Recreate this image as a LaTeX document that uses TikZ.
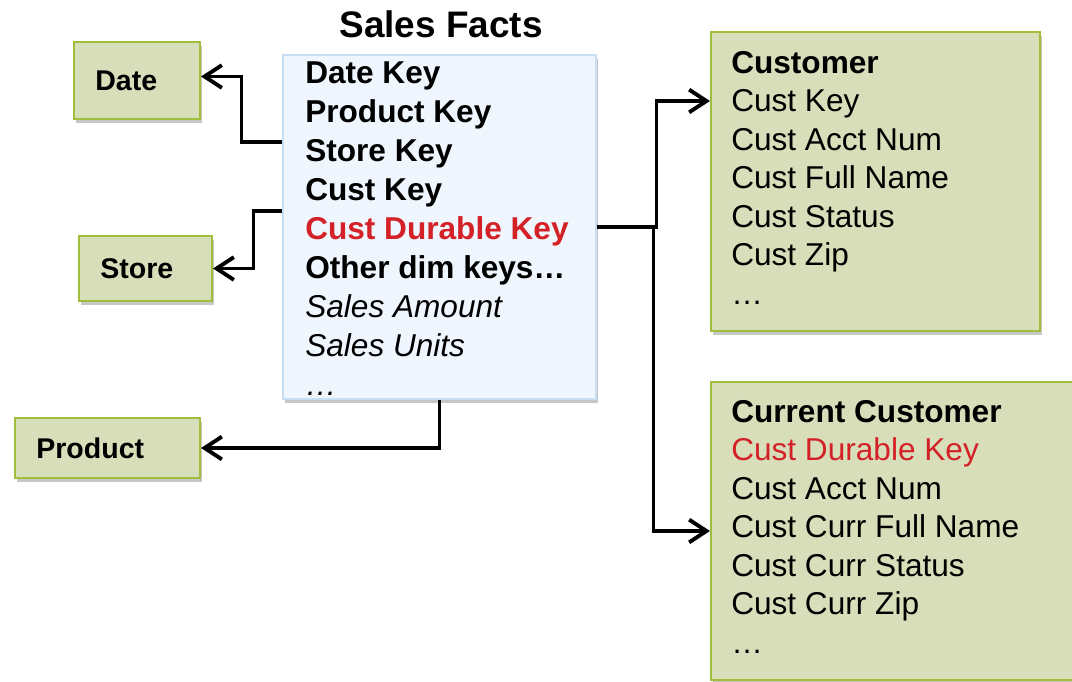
\documentclass[tikz,border=0pt]{standalone}
\usepackage{fontspec}
\setmainfont{Liberation Sans}
\usetikzlibrary{arrows.meta,shadows}

\definecolor{dimfill}{RGB}{215,222,185}
\definecolor{dimline}{RGB}{160,190,60}
\definecolor{factfill}{RGB}{239,246,253}
\definecolor{factline}{RGB}{200,222,242}
\definecolor{keyred}{RGB}{212,33,40}

\begin{document}
\begin{tikzpicture}[x=0.75pt,y=-0.75pt,>={Straight Barb[length=13pt,width=17pt]},
                    boxshadow/.style={drop shadow={shadow xshift=1.2pt,shadow yshift=-3pt,opacity=0.4,fill=black!55}},
                    dim/.style={draw=dimline,fill=dimfill,line width=1.5pt,inner xsep=16pt,inner ysep=0pt,
                                align=left,font=\fontsize{21.4}{26}\selectfont\bfseries,boxshadow},
                    table/.style={draw=dimline,fill=dimfill,line width=1.5pt,inner sep=0pt,boxshadow},
                    list/.style={anchor=north west,align=left,inner sep=0pt,font=\fontsize{23.7}{28.9}\selectfont},
                    link/.style={->,line width=2.9pt}]
  \useasboundingbox (0,0) rectangle (1072,682);

  \node[font=\fontsize{27.7}{33}\selectfont\bfseries] (title) at (441,24) {Sales Facts};

  \node[table,draw=factline,fill=factfill,line width=0.8pt,minimum width=234.75pt,minimum height=258pt] (fact) at (439.5,227) {};
  \node[list,font=\fontsize{23.7}{29.25}\selectfont] (factkeys) at (305,61.7) {\textbf{Date Key}\\\textbf{Product Key}\\\textbf{Store Key}\\\textbf{Cust Key}\\
        \textcolor{keyred}{\textbf{Cust Durable Key}}\\\textbf{Other dim keys…}\\\textit{Sales Amount}\\\textit{Sales Units}\\\textit{…}};

  \node[dim,text width=62.5pt,minimum height=57.75pt] (date) at (137,80.5) {Date};
  \node[dim,text width=67.75pt,minimum height=48.75pt] (store) at (145.5,268.5) {Store};
  \node[dim,text width=106.75pt,minimum height=45pt] (product) at (107.5,448) {Product};

  \node[table,minimum width=246.75pt,minimum height=224.25pt] (cust) at (875.5,181.5) {};
  \node[list] (custcols) at (731,50.7) {\textbf{Customer}\\Cust Key\\Cust Acct Num\\Cust Full Name\\Cust Status\\Cust Zip\\…};

  \node[table,minimum width=284.25pt,minimum height=223.5pt] (curr) at (900.5,531) {};
  \node[list] (currcols) at (731,399.7) {\textbf{Current Customer}\\\textcolor{keyred}{Cust Durable Key}\\Cust Acct Num\\
        Cust Curr Full Name\\Cust Curr Status\\Cust Curr Zip\\…};

  \draw[link] (fact.west |- 0,142) -- ++(-41,0) |- ([yshift=3pt]date.east);
  \draw[link] (fact.west |- 0,211) -- ++(-29,0) |- (store.east);
  \draw[link] (fact.south) |- (product.east);
  \draw[link] (fact.east) -- ++(60,0) |- (cust.west |- 0,101);
  \draw[link] (fact.east) -- ++(57,0) |- (curr.west);
\end{tikzpicture}
\end{document}
